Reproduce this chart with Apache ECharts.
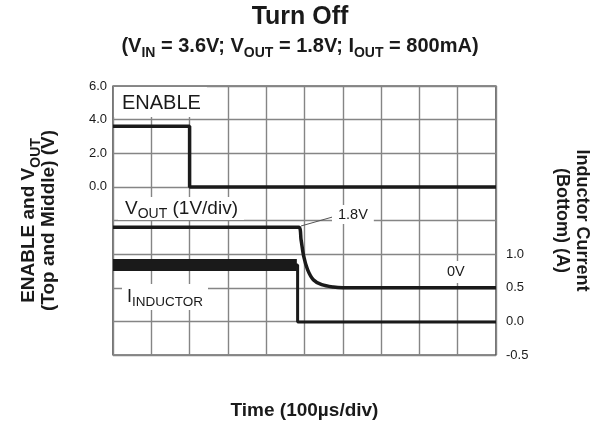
<!DOCTYPE html>
<html>
<head>
<meta charset="utf-8">
<script src="https://cdn.jsdelivr.net/npm/echarts@6/dist/echarts.min.js"></script>
<style>html,body{margin:0;padding:0;background:#fff}#c{width:600px;height:432px}</style>
</head>
<body>
<div id="c"></div>
<script>
// Time in microseconds (100 µs/div, 10 divisions)
const timeMin = 0, timeMax = 1000, timeStep = 100;
// ENABLE trace (V)
const enableT = [0, 200, 200, 1000];
const enableV = [3.6, 3.6, 0, 0];
// VOUT trace (V), 1V/div
const voutT = [0, 485, 491, 498, 508, 523, 545, 575, 600, 1000];
const voutV = [1.8, 1.8, 1.43, 0.93, 0.54, 0.24, 0.09, 0.02, 0, 0];
// Inductor current (A)
const currentT = [0, 482, 482, 1000];
const currentA = [0.84, 0.84, -0.01, -0.01];
// ripple band of the inductor current while switching
const rippleT = [0, 480];
const rippleA = [0.84, 0.84];
// tick labels
const leftTicks = ['0.0', '2.0', '4.0', '6.0'];
const rightTicks = ['-0.5', '0.0', '0.5', '1.0'];

const FONT = '"Liberation Sans", Arial, Helvetica, sans-serif';
const INK = '#1a1a1a';
const zip = (a, b) => a.map((v, i) => [v, b[i]]);

const chart = echarts.init(document.getElementById('c'), null, {renderer: 'canvas'});
const subRich = (size, main) => ({
  m: {fontSize: main, fontWeight: 'bold', fontFamily: FONT, color: INK},
  s: {fontSize: size, fontWeight: 'bold', fontFamily: FONT, color: INK, verticalAlign: 'bottom', padding: [0, 0, -4, 0]}
});

chart.setOption({
  animation: false,
  backgroundColor: '#fff',
  title: {
    left: 'center', top: 0, itemGap: 6,
    text: 'Turn Off',
    textStyle: {fontFamily: FONT, fontWeight: 'bold', fontSize: 25, color: INK},
    subtext: '{m|(V}{s|IN}{m| = 3.6V; V}{s|OUT}{m| = 1.8V; I}{s|OUT}{m| = 800mA)}',
    subtextStyle: {rich: subRich(14, 20)}
  },
  grid: {left: 113, right: 104, top: 86, bottom: 77, show: true, borderColor: INK, borderWidth: 1.2,
         containLabel: false, outerBoundsMode: 'none'},
  xAxis: {
    type: 'value', min: timeMin, max: timeMax, interval: timeStep,
    axisLine: {show: false}, axisTick: {show: false}, axisLabel: {show: false},
    splitLine: {show: true, lineStyle: {color: '#858585', width: 1.4}},
    name: 'Time (100µs/div)', nameLocation: 'middle', nameGap: 46,
    nameTextStyle: {fontFamily: FONT, fontWeight: 'bold', fontSize: 19, color: INK}
  },
  yAxis: [
    {
      type: 'value', position: 'left', min: -10, max: 6, interval: 2,
      axisLine: {show: false}, axisTick: {show: false},
      splitLine: {show: true, lineStyle: {color: '#858585', width: 1.4}},
      axisLabel: {
        margin: 6, fontFamily: FONT, fontSize: 13, color: INK,
        formatter: v => leftTicks.includes(v.toFixed(1)) ? v.toFixed(1) : ''
      },
      name: '{m|ENABLE and V}{s|OUT}\n{m|(Top and Middle) (V)}',
      nameLocation: 'middle', nameRotate: 90, nameGap: 54,
      nameTextStyle: {rich: subRich(14, 19), lineHeight: 20}
    },
    {type: 'value', min: -2, max: 6, show: false},
    {
      type: 'value', position: 'right', min: -0.5, max: 3.5, interval: 0.5,
      axisLine: {show: false}, axisTick: {show: false}, splitLine: {show: false},
      axisLabel: {
        margin: 10, fontFamily: FONT, fontSize: 13, color: INK,
        formatter: v => rightTicks.includes(v.toFixed(1)) ? v.toFixed(1) : ''
      },
      name: '{m|Inductor Current}\n{m|(Bottom) (A)}',
      nameLocation: 'middle', nameRotate: -90, nameGap: 56,
      nameTextStyle: {rich: subRich(14, 18), lineHeight: 20}
    }
  ],
  series: [
    {type: 'line', yAxisIndex: 0, data: zip(enableT, enableV), symbol: 'none',
     lineStyle: {color: INK, width: 3.5}, z: 5},
    {type: 'line', yAxisIndex: 1, data: zip(voutT, voutV), symbol: 'none', smooth: 0.3,
     lineStyle: {color: INK, width: 3.5}, z: 5},
    {type: 'line', yAxisIndex: 2, data: zip(currentT, currentA), symbol: 'none',
     lineStyle: {color: INK, width: 3}, z: 5},
    {type: 'line', yAxisIndex: 2, data: zip(rippleT, rippleA), symbol: 'none',
     lineStyle: {color: INK, width: 12, cap: 'butt'}, z: 5}
  ]
});

// annotation labels (white boxes over the grid, like the scope plot)
const lab = (x, y, text, size, pad, sub) => ({
  type: 'text', x: x, y: y, z: 100,
  style: {
    text: text, fill: INK, font: size + 'px ' + FONT,
    backgroundColor: '#fff', padding: pad,
    rich: {
      m: {fontSize: size, fontFamily: FONT, color: INK},
      s: {fontSize: sub || Math.round(size * 0.7), fontFamily: FONT, color: INK, verticalAlign: 'bottom', padding: [0, 0, -3, 0]}
    }
  }
});
chart.setOption({
  graphic: [
    lab(114, 87, 'ENABLE', 20, [6, 6, 4, 8]),
    lab(118, 197, '{m|V}{s|OUT}{m| (1V/div)}', 19, [2, 6, 2, 7], 14),
    {type: 'line', z: 99, shape: {x1: 301, y1: 226, x2: 336, y2: 216}, style: {stroke: '#555', lineWidth: 1}},
    lab(332, 205, '1.8V', 14.5, [2, 6, 2, 6]),
    lab(441, 261, '0V', 14.5, [3, 6, 4, 6]),
    lab(122, 284, '{m|I}{s|INDUCTOR}', 18, [4, 5, 4, 5], 13.5)
  ]
});
</script>
</body>
</html>
